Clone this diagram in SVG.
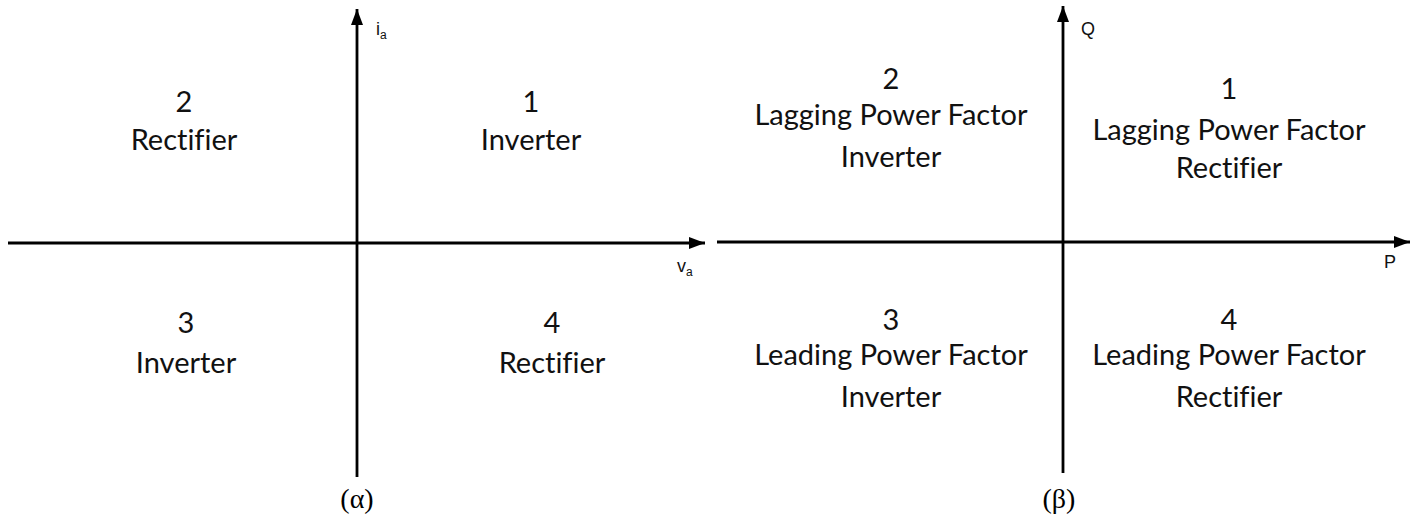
<svg xmlns="http://www.w3.org/2000/svg" width="1416" height="516" viewBox="0 0 1416 516">
  <style>
    .axis { stroke: #000; stroke-width: 2.8; fill: none; }
    .lbl { font-family: Lato, "Liberation Sans", sans-serif; font-size: 29px; fill: #111; text-anchor: middle; font-variant-ligatures: none; font-feature-settings: "liga" 0; }
    .ax { font-family: "Liberation Sans", Arial, sans-serif; font-size: 18px; fill: #111; }
    .sub { font-size: 12px; }
    .cap { font-family: "Liberation Serif", "Times New Roman", serif; font-size: 28px; fill: #000; text-anchor: middle; }
  </style>
  <defs>
    <marker id="arrow" viewBox="0 0 16 12" refX="16" refY="6" markerWidth="16" markerHeight="12" markerUnits="userSpaceOnUse" orient="auto">
      <path d="M0,0 L16,6 L0,12 Z" fill="#000"/>
    </marker>
  </defs>
  <rect width="1416" height="516" fill="#fff"/>

  <!-- axes -->
  <g id="connectors">
    <line class="axis" x1="8" y1="243" x2="705" y2="243" marker-end="url(#arrow)"/>
    <line class="axis" x1="357" y1="477" x2="357" y2="9" marker-end="url(#arrow)"/>
    <line class="axis" x1="717" y1="242" x2="1410" y2="242" marker-end="url(#arrow)"/>
    <line class="axis" x1="1063" y1="473" x2="1063" y2="6" marker-end="url(#arrow)"/>
  </g>

  <!-- axis names -->
  <g id="axis-ia"><text class="ax" x="376" y="35">i<tspan class="sub" dy="4">a</tspan></text></g>
  <g id="axis-va"><text class="ax" x="677" y="272">v<tspan class="sub" dy="4">a</tspan></text></g>
  <g id="axis-q"><text class="ax" x="1081" y="35">Q</text></g>
  <g id="axis-p"><text class="ax" x="1384" y="268">P</text></g>

  <!-- voltage/current plane -->
  <g id="a-q2">
    <text class="lbl" x="184" y="112">2</text>
    <text class="lbl" x="184" y="150">Rectifier</text>
  </g>
  <g id="a-q1">
    <text class="lbl" x="531" y="112">1</text>
    <text class="lbl" x="531" y="150">Inverter</text>
  </g>
  <g id="a-q3">
    <text class="lbl" x="186" y="333">3</text>
    <text class="lbl" x="186" y="373">Inverter</text>
  </g>
  <g id="a-q4">
    <text class="lbl" x="552" y="333">4</text>
    <text class="lbl" x="552" y="373">Rectifier</text>
  </g>

  <!-- active/reactive power plane -->
  <g id="b-q2">
    <text class="lbl" x="891" y="89">2</text>
    <text class="lbl" x="891" y="125">Lagging Power Factor</text>
    <text class="lbl" x="891" y="167">Inverter</text>
  </g>
  <g id="b-q1">
    <text class="lbl" x="1229" y="99">1</text>
    <text class="lbl" x="1229" y="140">Lagging Power Factor</text>
    <text class="lbl" x="1229" y="178">Rectifier</text>
  </g>
  <g id="b-q3">
    <text class="lbl" x="891" y="330">3</text>
    <text class="lbl" x="891" y="365">Leading Power Factor</text>
    <text class="lbl" x="891" y="407">Inverter</text>
  </g>
  <g id="b-q4">
    <text class="lbl" x="1229" y="330">4</text>
    <text class="lbl" x="1229" y="365">Leading Power Factor</text>
    <text class="lbl" x="1229" y="407">Rectifier</text>
  </g>

  <!-- captions -->
  <g id="cap-a"><text class="cap" x="357" y="508">(α)</text></g>
  <g id="cap-b"><text class="cap" x="1059" y="508">(β)</text></g>
</svg>
